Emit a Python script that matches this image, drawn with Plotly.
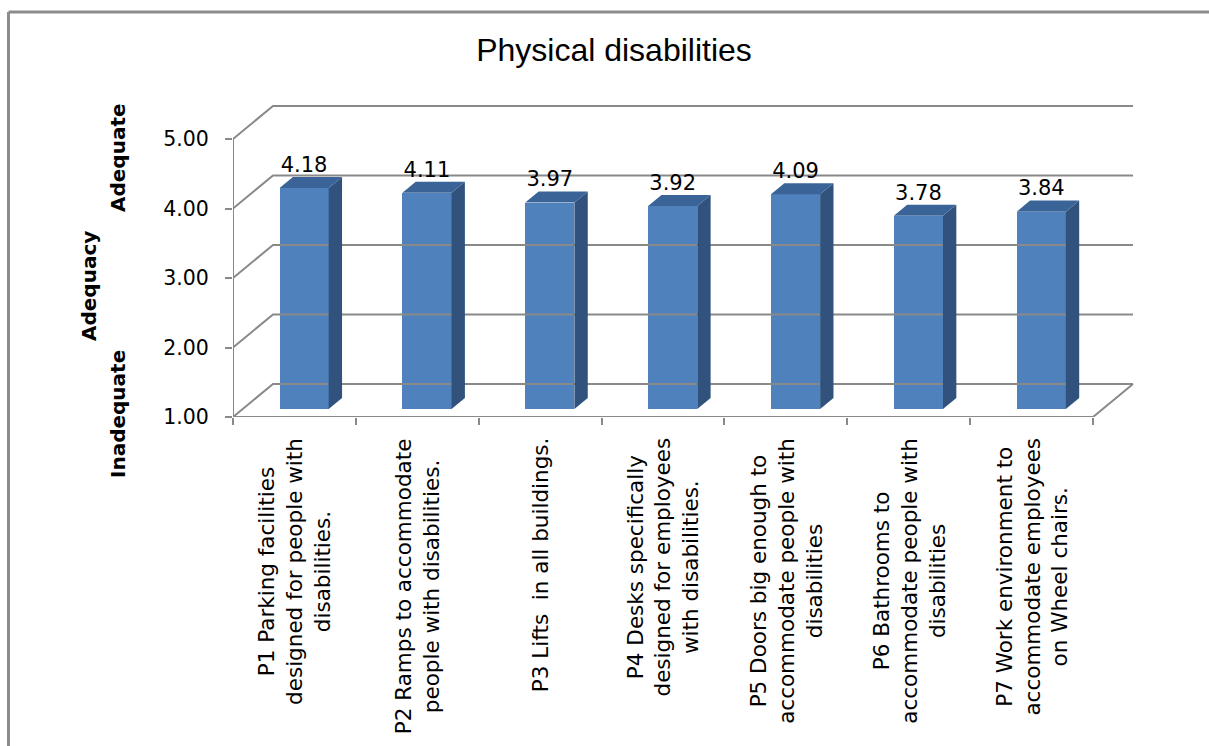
import plotly.graph_objects as go

# Survey items and their mean adequacy scores
categories = [
    "P1 Parking facilities<br>designed for people with<br>disabilities.",
    "P2 Ramps to accommodate<br>people with disabilities.",
    "P3 Lifts  in all buildings.",
    "P4 Desks specifically<br>designed for employees<br>with disabilities.",
    "P5 Doors big enough to<br>accommodate people with<br>disabilities",
    "P6 Bathrooms to<br>accommodate people with<br>disabilities",
    "P7 Work environment to<br>accommodate employees<br>on Wheel chairs.",
]
scores = [4.18, 4.11, 3.97, 3.92, 4.09, 3.78, 3.84]
y_ticks = [1, 2, 3, 4, 5]
y_tick_text = ["1.00", "2.00", "3.00", "4.00", "5.00"]

# Oblique projection of the depth axis, in data units
DX = 0.3256   # horizontal shift of the back wall (category units)
DY = 0.475    # vertical shift of the back wall (value units)
F0, F1 = 0.242, 0.576  # front / back depth of the bar prisms
BAR_W = 0.4
BASE = 1.0
N = len(categories)

# plot-area geometry in pixels
L, R, T, B = 233, 73, 104, 329
W_PLOT = 1209 - L - R
H_PLOT = 746 - T - B

def px_to_paper(px, py):
    return (px - L) / W_PLOT, (746 - B - py) / H_PLOT

FRONT = "#4F81BD"
SIDE = "#30527D"
TOP = "#3A6497"
GRID = "#898989"
TXT = "#000000"

fig = go.Figure()

def line(xs, ys, width=2):
    fig.add_trace(go.Scatter(x=xs, y=ys, mode="lines", hoverinfo="skip",
                             line=dict(color=GRID, width=width), showlegend=False,
                             cliponaxis=False))

# back wall gridlines and left wall diagonals
for k in y_ticks:
    line([0, DX, N + DX], [k, k + DY, k + DY])
# front axis, floor front edge and floor right edge
line([0, 0, N, N + DX], [max(y_ticks), BASE, BASE, BASE + DY])

# bar prisms
xs_front = [i + 0.5 + F0 * DX for i in range(N)]
fig.add_trace(go.Bar(x=xs_front, y=[v - BASE for v in scores], base=BASE + F0 * DY,
                     width=BAR_W, marker=dict(color=FRONT, line=dict(width=0)),
                     showlegend=False, hoverinfo="skip"))
dd_x = (F1 - F0) * DX
dd_y = (F1 - F0) * DY
for xc, v in zip(xs_front, scores):
    xl, xr = xc - BAR_W / 2, xc + BAR_W / 2
    yb, yt = BASE + F0 * DY, v + F0 * DY
    # right side face
    fig.add_trace(go.Scatter(x=[xr, xr, xr + dd_x, xr + dd_x, xr],
                             y=[yb, yt, yt + dd_y, yb + dd_y, yb],
                             fill="toself", fillcolor=SIDE, mode="lines",
                             line=dict(width=0, color=SIDE), showlegend=False,
                             hoverinfo="skip"))
    # top face
    fig.add_trace(go.Scatter(x=[xl, xr, xr + dd_x, xl + dd_x, xl],
                             y=[yt, yt, yt + dd_y, yt + dd_y, yt],
                             fill="toself", fillcolor=TOP, mode="lines",
                             line=dict(width=0, color=TOP), showlegend=False,
                             hoverinfo="skip"))

# value labels above each bar
fig.add_trace(go.Scatter(x=xs_front, y=[v + F1 * DY for v in scores], mode="text",
                         text=[f"{v:.2f}" for v in scores], textposition="top center",
                         textfont=dict(family="DejaVu Sans", size=21, color=TXT),
                         showlegend=False, hoverinfo="skip", cliponaxis=False))

# category labels, rotated, lines centred
_, lab_top = px_to_paper(0, 436)
for i, lab in enumerate(categories):
    fig.add_annotation(x=i + 0.5, y=lab_top, xref="x", yref="paper", text=lab,
                       textangle=-90, xanchor="center", yanchor="top", align="center",
                       showarrow=False,
                       font=dict(family="DejaVu Sans", size=21.5, color=TXT))

# axis titles
bold = dict(family="DejaVu Sans", size=20, color=TXT)
for txt, px, py in [("<b>Adequacy</b>", 89, 286), ("<b>Adequate</b>", 118, 158),
                    ("<b>Inadequate</b>", 118, 414)]:
    ax, ay = px_to_paper(px, py)
    fig.add_annotation(x=ax, y=ay, xref="paper", yref="paper",
                       text=txt, textangle=-90, showarrow=False,
                       xanchor="center", yanchor="middle", font=bold)

# outer chart border (left and top edges)
bx0, by0 = px_to_paper(8.5, 12)
bx1, by1 = px_to_paper(1215, 760)
fig.add_shape(type="line", xref="paper", yref="paper", x0=bx0, x1=bx0,
              y0=by0, y1=by1, line=dict(color="#8C8C8C", width=3))
fig.add_shape(type="line", xref="paper", yref="paper", x0=bx0, x1=bx1,
              y0=by0, y1=by0, line=dict(color="#8C8C8C", width=3))

fig.update_layout(
    width=1209, height=746,
    margin=dict(l=L, r=R, t=T, b=B),
    paper_bgcolor="white", plot_bgcolor="white",
    title=dict(text="Physical disabilities", x=614 / 1209, xanchor="center",
               y=1 - 50 / 746, yanchor="middle",
               font=dict(family="Liberation Sans", size=32, color=TXT)),
    xaxis=dict(range=[0, W_PLOT / 122.86], showgrid=False, zeroline=False, showline=False,
               tickmode="array", tickvals=list(range(N + 1)), showticklabels=False,
               ticks="outside", ticklen=7, tickwidth=2, tickcolor=GRID, fixedrange=True),
    yaxis=dict(range=[1, 1 + H_PLOT / 69.5], showgrid=False, zeroline=False, showline=False,
               tickmode="array", tickvals=y_ticks, ticktext=y_tick_text,
               ticks="outside", ticklen=7, tickwidth=2, tickcolor=GRID,
               ticklabelstandoff=12,
               tickfont=dict(family="DejaVu Sans", size=20.5, color=TXT), fixedrange=True),
    bargap=0,
)

fig.write_html("out.html")
